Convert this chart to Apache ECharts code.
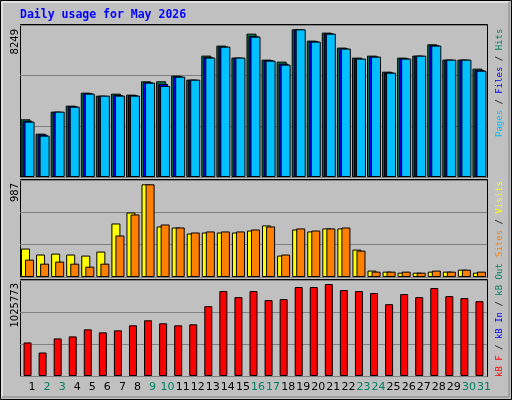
<!DOCTYPE html>
<html><head><meta charset="utf-8">
<script src="https://cdn.jsdelivr.net/npm/echarts@6/dist/echarts.min.js"></script>
<style>html,body{margin:0;padding:0;background:#c0c0c0}#c{width:512px;height:400px}</style>
</head><body><div id="c"></div>
<script>
const days = Array.from({length:31},(_,i)=>String(i+1));
const weekend = [2,3,9,10,16,17,23,24,30,31];
const hits  = [3222,2421,3650,3985,4711,4544,4655,4600,5344,5344,5661,5438,6779,7338,6668,8007,6556,6444,8249,7617,8064,7227,6668,6779,5884,6668,6779,7412,6556,6556,6053];
const files = [3140,2370,3640,3950,4680,4530,4580,4570,5290,5200,5620,5430,6700,7280,6660,7880,6520,6330,8230,7590,8020,7180,6610,6730,5840,6630,6770,7370,6550,6550,5970];
const pages = [3091,2309,3650,3929,4655,4544,4544,4544,5270,5084,5605,5438,6668,7282,6668,7840,6500,6276,8249,7561,8008,7171,6612,6723,5828,6612,6779,7338,6556,6556,5940];
const visits= [303,239,249,239,228,271,570,687,987,538,527,463,474,474,474,495,549,228,506,485,517,517,292,68,57,46,46,57,57,78,46];
const sites = [185,142,164,142,110,142,442,666,987,559,527,474,485,485,485,506,538,239,517,495,517,527,281,57,57,57,46,68,57,78,57];
const kbf   = [374297,262000,419223,441685,520300,486600,509100,565200,621400,587700,565200,576500,778600,947100,879700,947100,846000,857300,992000,992000,1025773,958300,947100,924700,801100,913400,879700,980800,890900,868400,834700];

const chart = echarts.init(document.getElementById('c'));
const F = 'DejaVu Sans Mono';
const panels = [[25,152],[180,97],[280,96]];
const grids = panels.map(p=>({left:20,top:p[0],width:467,height:p[1],show:false}));
const xAxes = panels.map((p,i)=>({type:'category',gridIndex:i,data:days,
  axisLine:{show:false},axisTick:{show:false},
  axisLabel:{show:i===2,interval:0,margin:6,padding:[0,0,0,9],fontFamily:'DejaVu Sans',fontSize:11,
    color:(v)=>weekend.includes(+v)?'#008060':'#000000'}}));
const maxes=[8490,1033,1070700];
const yAxes = maxes.map((m,i)=>({type:'value',gridIndex:i,min:0,max:m,interval:m/3,
  axisLine:{show:false},axisTick:{show:false},axisLabel:{show:false},
  splitLine:{show:true,lineStyle:{color:'#808080',width:1}}}));
const bs = (c)=>({color:c,borderColor:'#000',borderWidth:1});
const series = [
 {type:'bar',xAxisIndex:0,yAxisIndex:0,data:hits,barWidth:10,barGap:'-80%',itemStyle:bs('#007850'),animation:false},
 {type:'bar',xAxisIndex:0,yAxisIndex:0,data:files,barWidth:10,barGap:'-80%',itemStyle:bs('#0000ff'),animation:false},
 {type:'bar',xAxisIndex:0,yAxisIndex:0,data:pages,barWidth:10,barGap:'-80%',itemStyle:bs('#00c0ff'),animation:false},
 {type:'bar',xAxisIndex:1,yAxisIndex:1,data:visits,barWidth:9,barGap:'-55%',itemStyle:bs('#ffff00'),animation:false},
 {type:'bar',xAxisIndex:1,yAxisIndex:1,data:sites,barWidth:9,barGap:'-55%',itemStyle:bs('#ff8000'),animation:false},
 {type:'bar',xAxisIndex:2,yAxisIndex:2,data:kbf,barWidth:8,itemStyle:bs('#ff0000'),animation:false}
];
const frames = panels.map(p=>({type:'rect',shape:{x:20.5,y:p[0]-0.5,width:467,height:p[1]+1},
  style:{fill:'none',stroke:'#000',lineWidth:1},z:-1}));
const ylab = (t,y)=>({type:'text',x:15,y:y,rotation:Math.PI/2,
  style:{text:t,font:'10px DejaVu Sans',fill:'#000',align:'right',verticalAlign:'middle'}});
const fs = '9px '+F;
const rl = (y,parts)=>({type:'text',x:500,y:y,rotation:Math.PI/2,
  style:{text:parts.map(p=>'{'+p[1]+'|'+p[0]+'}').join(''),align:'left',verticalAlign:'middle',
  font:fs,rich:{c:{fill:'#00c0ff',font:fs},b:{fill:'#0000ff',font:fs},g:{fill:'#008060',font:fs},
   k:{fill:'#000',font:fs},o:{fill:'#ff8000',font:fs},y:{fill:'#ffff00',font:fs},r:{fill:'#ff0000',font:fs}}}});
chart.setOption({
  backgroundColor:'#c0c0c0',animation:false,
  grid:grids,xAxis:xAxes,yAxis:yAxes,series:series,
  graphic:[
   {type:'rect',shape:{x:0.5,y:0.5,width:511,height:399},style:{fill:'none',stroke:'#000',lineWidth:1}},
   {type:'polyline',shape:{points:[[2,397],[2,2],[509,2]]},style:{stroke:'#ffffff',lineWidth:1,fill:'none'}},
   {type:'polyline',shape:{points:[[2,397],[509,397],[509,2]]},style:{stroke:'#808080',lineWidth:1,fill:'none'}},
   {type:'text',x:20,y:15,style:{text:'Daily usage for May 2026',font:'bold 11.5px '+F,fill:'#0000ff',verticalAlign:'middle'}},
   ...frames,
   ylab('8249',29), ylab('987',183), ylab('1025773',283),
   rl(137,[['Pages','c'],[' / ','k'],['Files','b'],[' / ','k'],['Hits','g']]),
   rl(257,[['Sites','o'],[' / ','k'],['Visits','y']]),
   rl(377,[['kB F','r'],[' / ','k'],['kB In','b'],[' / ','k'],['kB Out','g']])
  ]
});
</script></body></html>
